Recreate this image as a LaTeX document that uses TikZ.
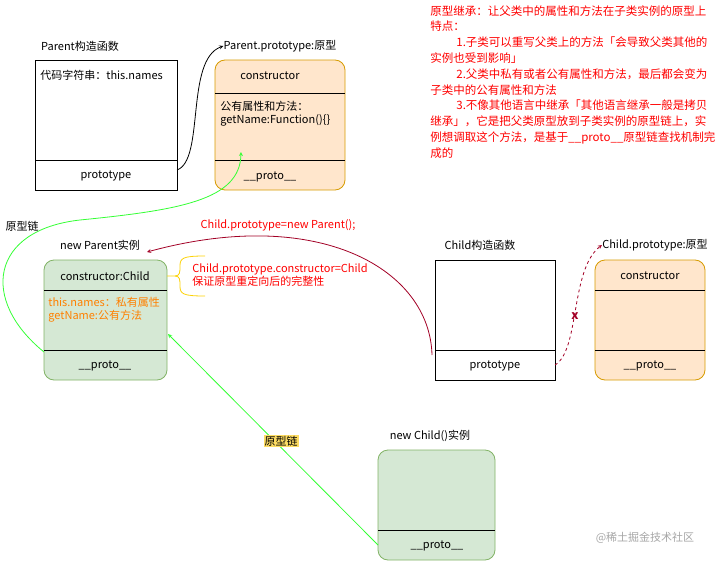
\documentclass[tikz,border=0pt]{standalone}
\usepackage{fontspec}
\setmainfont{Noto Sans CJK SC}
\definecolor{orfill}{HTML}{FFE6CC}
\definecolor{ordraw}{HTML}{D79B00}
\definecolor{grfill}{HTML}{D5E8D4}
\definecolor{grdraw}{HTML}{82B366}
\definecolor{wine}{HTML}{A20025}
\definecolor{chain}{HTML}{33FF33}
\definecolor{ortext}{HTML}{FF8000}
\tikzset{
  txt/.style={font=\fontsize{11}{13}\selectfont, inner sep=0pt},
  plainbox/.style={draw=black, fill=white},
  orbox/.style={draw=ordraw, fill=orfill, rounded corners=10pt},
  grbox/.style={draw=grdraw, fill=grfill, rounded corners=10pt}
}
\begin{document}
\begin{tikzpicture}[x=1pt,y=-1pt,line width=0.8pt]
\useasboundingbox (0,0) rectangle (726,562);

% Parent constructor
\node[txt] (pctorlbl) at (80,46) {Parent构造函数};
\draw[plainbox] (35,60) rectangle (177,190);
\draw (35,160) -- (177,160);
\node[txt, anchor=west] (pcode) at (40,75) {代码字符串：this.names};
\node[txt] (pproto) at (106,176) {prototype};
\coordinate (pctorout) at (177,170);

% Parent.prototype
\node[txt] (pplbl) at (280,46) {Parent.prototype:原型};
\draw[orbox] (215,60) rectangle (345,190);
\draw (215,93) -- (345,93);
\draw (215,160) -- (345,160);
\node[txt] (ppctor) at (270,76) {constructor};
\node[txt, anchor=north west, align=left] (ppmeth) at (220,101) {公有属性和方法：\\getName:Function()\{\}};
\node[txt] (ppproto) at (270,177) {\_\_proto\_\_};
\coordinate (ppin) at (241,152);

\draw[-stealth] (pctorout) .. controls (205,160) and (185,60) .. (pplbl.west);

% new Parent instance
\node[txt] (npllbl) at (100,245) {new Parent实例};
\draw[grbox] (44,260) rectangle (167,380);
\draw (44,290) -- (167,290);
\draw (44,350) -- (167,350);
\node[txt] (npctor) at (105,276) {constructor:Child};
\node[txt, anchor=north west, align=left, text=ortext] (npmeth) at (48,297) {this.names：私有属性\\getName:公有方法};
\node[txt] (npproto) at (105,366) {\_\_proto\_\_};
\coordinate (npout) at (44,352);
\coordinate (npin) at (168,334);

\node[txt] (chainlbl) at (22,226) {原型链};
\draw[-stealth, chain] (npout) .. controls (-20,300) and (-10,230) .. (80,220)
  .. controls (180,210) and (240,200) .. (ppin);

% brace
\draw[yellow!70!orange] (167,276) -- (175,276)
  .. controls (180,276) and (180,272) .. (180,266)
  .. controls (180,258) and (183,256) .. (205,256);
\draw[yellow!70!orange] (175,276)
  .. controls (180,276) and (180,280) .. (180,286)
  .. controls (180,294) and (183,296) .. (205,296);
\node[txt, anchor=north west, align=left, text=red] (ctornote) at (192,263) {Child.prototype.constructor=Child\\保证原型重定向后的完整性};

% Child constructor
\node[txt] (cctorlbl) at (480,245) {Child构造函数};
\draw[plainbox] (435,260) rectangle (555,380);
\draw (435,350) -- (555,350);
\node[txt] (cproto) at (495,366) {prototype};
\coordinate (cctorout) at (432,355);
\coordinate (cctorright) at (555,365);

\node[txt, text=red] (assignlbl) at (278,225) {Child.prototype=new Parent();};
\draw[-stealth, wine] (cctorout) .. controls (430,270) and (320,205) .. (147,252);

% Child.prototype
\node[txt] (cplbl) at (655,245) {Child.prototype:原型};
\draw[orbox] (595,260) rectangle (705,380);
\draw (595,290) -- (705,290);
\draw (595,350) -- (705,350);
\node[txt] (cpctor) at (650,276) {constructor};
\node[txt] (cpproto) at (650,366) {\_\_proto\_\_};
\draw[-stealth, wine, dashed] (cctorright) .. controls (580,350) and (570,270) .. (cplbl.west);
\node[txt, text=wine, font=\bfseries\fontsize{12}{13}\selectfont] (cross) at (575,316) {x};

% new Child instance
\node[txt] (ncllbl) at (430,436) {new Child()实例};
\draw[grbox] (378,450) rectangle (495,560);
\draw (378,530) -- (495,530);
\node[txt] (ncproto) at (437,546) {\_\_proto\_\_};
\coordinate (ncout) at (378,545);
\draw[-stealth, chain] (ncout) -- (npin);
\node[txt, fill=yellow!60!orange!60, inner sep=1pt] (chainlbl2) at (281,441) {原型链};

% notes
\node[anchor=north west, align=left, text=red, inner sep=0pt,
  font=\fontsize{11.5}{15.8}\selectfont] (notes) at (430,5) {%
原型继承：让父类中的属性和方法在子类实例的原型上\\
特点：\\
\hspace*{26pt}1.子类可以重写父类上的方法「会导致父类其他的\\
实例也受到影响」\\
\hspace*{26pt}2.父类中私有或者公有属性和方法，最后都会变为\\
子类中的公有属性和方法\\
\hspace*{26pt}3.不像其他语言中继承「其他语言继承一般是拷贝\\
继承」，它是把父类原型放到子类实例的原型链上，实\\
例想调取这个方法，是基于\_\_proto\_\_原型链查找机制完\\
成的};
\node[txt, text=gray!70] (mark) at (645,538) {@稀土掘金技术社区};
\end{tikzpicture}
\end{document}
